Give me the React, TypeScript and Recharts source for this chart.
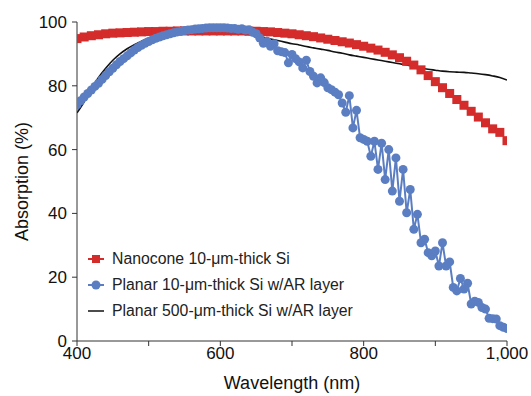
import { LineChart, Line, XAxis, YAxis } from "recharts";

const RED = "#d42b2b";
const BLUE = "#5b7ec3";
const BLACK = "#111111";

// Nanocone 10-um-thick Si (10 nm steps)
const nanoWl = [
  400, 410, 420, 430, 440, 450, 460, 470, 480, 490, 500, 510, 520, 530, 540, 550, 560, 570, 580, 590, 600,
  610, 620, 630, 640, 650, 660, 670, 680, 690, 700, 710, 720, 730, 740, 750, 760, 770, 780, 790, 800,
  810, 820, 830, 840, 850, 860, 870, 880, 890, 900, 910, 920, 930, 940, 950, 960, 970, 980, 990, 1000,
];
const nanoAbs = [
  94.8, 95.3, 95.7, 96.0, 96.3, 96.5, 96.6, 96.7, 96.8, 96.9, 97.0, 97.0, 97.1, 97.1, 97.2, 97.2, 97.2, 97.2, 97.2, 97.2, 97.2,
  97.2, 97.2, 97.2, 97.1, 97.1, 97.0, 96.9, 96.7, 96.5, 96.3, 96.0, 95.7, 95.4, 95.0, 94.6, 94.2, 93.8, 93.4, 92.9, 92.4,
  91.8, 91.2, 90.5, 89.7, 88.8, 87.7, 86.5, 85.0, 83.2, 81.3, 79.4, 77.6, 75.7, 73.9, 72.0, 70.2, 68.4, 66.5, 65.4, 62.8,
];

// Planar 10-um-thick Si w/AR layer (5 nm steps)
const planarWl = [
  400, 405, 410, 415, 420, 425, 430, 435, 440, 445, 450, 455, 460, 465, 470, 475, 480, 485, 490, 495,
  500, 505, 510, 515, 520, 525, 530, 535, 540, 545, 550, 555, 560, 565, 570, 575, 580, 585, 590, 595,
  600, 605, 610, 615, 620, 625, 630, 635, 640, 645, 650, 655, 660, 665, 670, 675, 680, 685, 690, 695,
  700, 705, 710, 715, 720, 725, 730, 735, 740, 745, 750, 755, 760, 765, 770, 775, 780, 785, 790, 795,
  800, 805, 810, 815, 820, 825, 830, 835, 840, 845, 850, 855, 860, 865, 870, 875, 880, 885, 890, 895,
  900, 905, 910, 915, 920, 925, 930, 935, 940, 945, 950, 955, 960, 965, 970, 975, 980, 985, 990, 995,
  1000,
];
const planarAbs = [
  74.0, 75.3, 76.5, 77.6, 78.7, 79.8, 80.8, 82.0, 83.2, 84.4, 85.5, 86.6, 87.6, 88.5, 89.4, 90.3, 91.2, 92.0, 92.7, 93.3,
  93.9, 94.4, 94.9, 95.3, 95.7, 96.0, 96.3, 96.6, 96.9, 97.1, 97.3, 97.5, 97.6, 97.8, 97.9, 98.0, 98.1, 98.2, 98.2, 98.2,
  98.2, 98.2, 98.1, 98.0, 98.0, 97.7, 97.9, 97.5, 97.6, 96.8, 96.3, 95.0, 93.3, 94.0, 92.4, 93.2, 91.0, 90.7, 90.4, 87.2,
  89.8, 88.5, 87.5, 85.6, 88.0, 84.5, 83.0, 80.9, 82.5, 81.0, 79.4, 78.8, 78.0, 77.2, 74.6, 71.7, 76.9, 66.8, 72.3, 63.7,
  63.2, 62.6, 57.9, 62.6, 53.8, 62.0, 50.6, 60.0, 47.0, 57.4, 43.8, 53.8, 40.2, 47.5, 35.0, 39.7, 30.8, 31.9, 27.7, 26.7,
  28.2, 23.5, 30.8, 23.5, 24.8, 16.8, 15.7, 19.6, 16.3, 18.1, 11.6, 12.5, 12.1, 10.5, 10.0, 7.1, 7.0, 6.9, 4.8, 4.3,
  3.9,
];

// Planar 500-um-thick Si w/AR layer (10 nm steps)
const thickWl = nanoWl;
const thickAbs = [
  71.5, 75.0, 79.0, 82.6, 85.5, 88.0, 90.0, 91.6, 92.9, 94.0, 94.9, 95.6, 96.1, 96.5, 96.8, 97.0, 97.2, 97.3, 97.3, 97.3, 97.2,
  97.0, 96.8, 96.5, 96.1, 95.7, 95.2, 94.7, 94.2, 93.7, 93.2, 92.8, 92.3, 91.9, 91.5, 91.1, 90.6, 90.2, 89.7, 89.3, 88.9,
  88.5, 88.1, 87.7, 87.3, 86.9, 86.5, 86.1, 85.6, 85.2, 84.9, 84.6, 84.4, 84.3, 84.2, 84.0, 83.8, 83.5, 83.1, 82.6, 81.8,
];

const xTicks = [400, 500, 600, 700, 800, 900, 1000];
const xLabels: Record<number, string> = { 400: "400", 600: "600", 800: "800", 1000: "1,000" };
const yTicks = [0, 20, 40, 60, 80, 100];

const seriesNames = [
  "Nanocone 10-\u03bcm-thick Si",
  "Planar 10-\u03bcm-thick Si w/AR layer",
  "Planar 500-\u03bcm-thick Si w/AR layer",
];

const nanoData = nanoWl.map((x, i) => ({ x, y: nanoAbs[i] }));
const planarData = planarWl.map((x, i) => ({ x, y: planarAbs[i] }));
const thickData = thickWl.map((x, i) => ({ x, y: thickAbs[i] }));

const FONT = "'Liberation Sans', Arial, Helvetica, sans-serif";

const SquareDot = (props: any) => {
  const { cx, cy, index } = props;
  if (cx == null || cy == null) return null;
  return <rect key={"sq" + index} x={cx - 4.5} y={cy - 4.5} width={9} height={9} fill={RED} />;
};

const LegendBox = () => {
  const icons = [
    <svg width={16} height={10}>
      <line x1={0} y1={5} x2={16} y2={5} stroke={RED} strokeWidth={2} />
      <rect x={4} y={1} width={8} height={8} fill={RED} />
    </svg>,
    <svg width={16} height={10}>
      <line x1={0} y1={5} x2={16} y2={5} stroke={BLUE} strokeWidth={2} />
      <circle cx={8} cy={5} r={4.5} fill={BLUE} />
    </svg>,
    <svg width={16} height={10}>
      <line x1={0} y1={5} x2={16} y2={5} stroke={BLACK} strokeWidth={1.5} />
    </svg>,
  ];
  return (
    <div style={{ fontFamily: FONT, fontSize: 15.8, color: "#222" }}>
      {seriesNames.map((name, i) => (
        <div key={name} style={{ display: "flex", alignItems: "center", height: 26, whiteSpace: "nowrap" }}>
          <span style={{ display: "inline-flex", width: 16, marginRight: 8 }}>{icons[i]}</span>
          <span>{name}</span>
        </div>
      ))}
    </div>
  );
};

export default function App() {
  return (
    <div style={{ position: "absolute", left: 0, top: 0, width: 531, height: 396, background: "#fff" }}>
      <LineChart width={531} height={396} margin={{ top: 22, right: 24, bottom: 5, left: 0 }}>
        <XAxis
          type="number"
          dataKey="x"
          domain={[400, 1000]}
          ticks={xTicks}
          tickFormatter={(v: number) => xLabels[v] ?? ""}
          allowDataOverflow
          height={50}
          tickSize={5}
          tickMargin={1}
          stroke="#333"
          tick={{ fill: "#111", fontSize: 17, fontFamily: FONT }}
          label={{
            content: (p: any) => {
              const vb = p.viewBox;
              return (
                <text
                  x={vb.x + vb.width / 2}
                  y={vb.y + 48}
                  textAnchor="middle"
                  fontSize={18}
                  fontFamily={FONT}
                  fill="#111"
                >
                  Wavelength (nm)
                </text>
              );
            },
          }}
        />
        <YAxis
          type="number"
          dataKey="y"
          domain={[0, 100]}
          ticks={yTicks}
          width={77}
          tickSize={5}
          tickMargin={5}
          stroke="#333"
          tick={{ fill: "#111", fontSize: 17, fontFamily: FONT }}
          label={{
            content: (p: any) => {
              const vb = p.viewBox;
              const cx = vb.x + 28;
              const cy = vb.y + vb.height / 2;
              return (
                <text
                  x={cx}
                  y={cy}
                  transform={`rotate(-90 ${cx} ${cy})`}
                  textAnchor="middle"
                  fontSize={18}
                  fontFamily={FONT}
                  fill="#111"
                >
                  Absorption (%)
                </text>
              );
            },
          }}
        />
        <Line
          data={nanoData}
          dataKey="y"
          name={seriesNames[0]}
          stroke={RED}
          strokeWidth={1}
          dot={SquareDot}
          activeDot={false}
          isAnimationActive={false}
        />
        <Line
          data={planarData}
          dataKey="y"
          name={seriesNames[1]}
          stroke={BLUE}
          strokeWidth={2}
          dot={{ r: 4.5, fill: BLUE, stroke: "none", strokeWidth: 0 }}
          activeDot={false}
          isAnimationActive={false}
        />
        <Line
          data={thickData}
          dataKey="y"
          name={seriesNames[2]}
          stroke={BLACK}
          strokeWidth={1.6}
          type="monotone"
          dot={false}
          activeDot={false}
          isAnimationActive={false}
        />
      </LineChart>
      <div style={{ position: "absolute", left: 88, top: 246 }}>
        <LegendBox />
      </div>
    </div>
  );
}
